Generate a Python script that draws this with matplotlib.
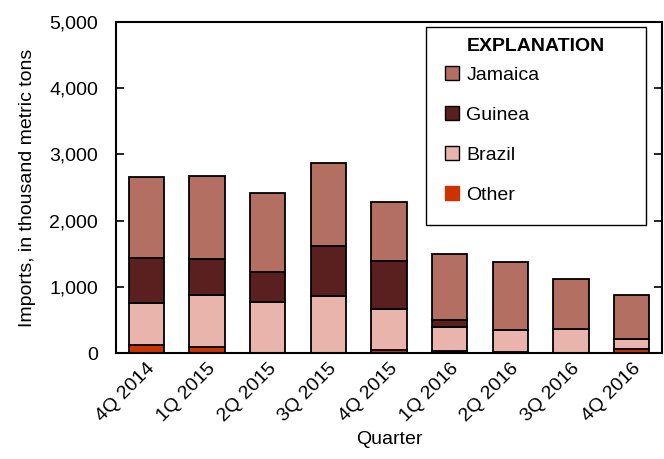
import matplotlib.pyplot as plt
from matplotlib.lines import Line2D
from matplotlib.patches import Rectangle

quarters = ["4Q 2014", "1Q 2015", "2Q 2015", "3Q 2015", "4Q 2015",
            "1Q 2016", "2Q 2016", "3Q 2016", "4Q 2016"]
other = [115, 85, 5, 5, 45, 30, 15, 0, 60]
brazil = [640, 791, 765, 856, 620, 363, 332, 362, 151]
guinea = [680, 544, 454, 755, 725, 107, 0, 0, 0]
jamaica = [1224, 1254, 1193, 1254, 891, 995, 1028, 756, 665]

plt.rcParams["font.family"] = ["Liberation Sans", "DejaVu Sans"]

c_jam = "#b37062"
c_gui = "#5a1f1f"
c_bra = "#e8b4ac"
c_oth = "#cc3300"

fig = plt.figure(figsize=(6.64, 4.59), dpi=100)
ax = fig.add_axes([0.1747, 0.2309, 0.8223, 0.7211])

x = range(len(quarters))
w = 0.58
b1 = other
b2 = [o + b for o, b in zip(other, brazil)]
b3 = [a + g for a, g in zip(b2, guinea)]
ax.bar(x, other, w, color=c_oth, edgecolor="black", linewidth=1.3)
ax.bar(x, brazil, w, bottom=b1, color=c_bra, edgecolor="black", linewidth=1.3)
ax.bar(x, guinea, w, bottom=b2, color=c_gui, edgecolor="black", linewidth=1.3)
ax.bar(x, jamaica, w, bottom=b3, color=c_jam, edgecolor="black", linewidth=1.3)

ax.set_xlim(-0.5, len(quarters) - 0.5)
ax.set_ylim(0, 5000)
ax.set_yticks(range(0, 5001, 1000))
ax.set_yticklabels(["0", "1,000", "2,000", "3,000", "4,000", "5,000"], fontsize=14)
ax.set_xticks(list(x))
ax.set_xticklabels(quarters, rotation=45, ha="right", rotation_mode="anchor", fontsize=14)
ax.tick_params(axis="y", direction="in", length=6, width=1.2, left=True, right=True, pad=13)
ax.tick_params(axis="x", length=0, pad=5)
for s in ax.spines.values():
    s.set_linewidth(1.5)

ax.set_ylabel("Imports, in thousand metric tons", fontsize=14)
ax.set_xlabel("Quarter", fontsize=14)
ax.yaxis.set_label_coords(-0.147, 0.5)
ax.xaxis.set_label_coords(0.5, -0.235)

# legend box
ax.add_patch(Rectangle((0.568, 0.387), 0.403, 0.598, transform=ax.transAxes,
                       facecolor="white", edgecolor="black", linewidth=1.0, zorder=4))

handles = [
    Line2D([], [], marker="s", linestyle="none", markersize=10, markerfacecolor=c_jam, markeredgecolor="black"),
    Line2D([], [], marker="s", linestyle="none", markersize=10, markerfacecolor=c_gui, markeredgecolor="black"),
    Line2D([], [], marker="s", linestyle="none", markersize=10, markerfacecolor=c_bra, markeredgecolor="black"),
    Line2D([], [], marker="s", linestyle="none", markersize=10, markerfacecolor=c_oth, markeredgecolor=c_oth),
]
leg = ax.legend(handles, ["Jamaica", "Guinea", "Brazil", "Other"],
                title="EXPLANATION", loc="upper left",
                bbox_to_anchor=(0.568, 0.387, 0.403, 0.598), mode="expand",
                fontsize=14, title_fontproperties={"weight": "bold", "size": 14},
                frameon=False, labelspacing=1.15, handlelength=1.58, handletextpad=-0.07,
                borderpad=0.55, borderaxespad=0)
leg.set_zorder(5)
leg._legend_box.sep = 8.4

fig.savefig("out.png", dpi=100)
